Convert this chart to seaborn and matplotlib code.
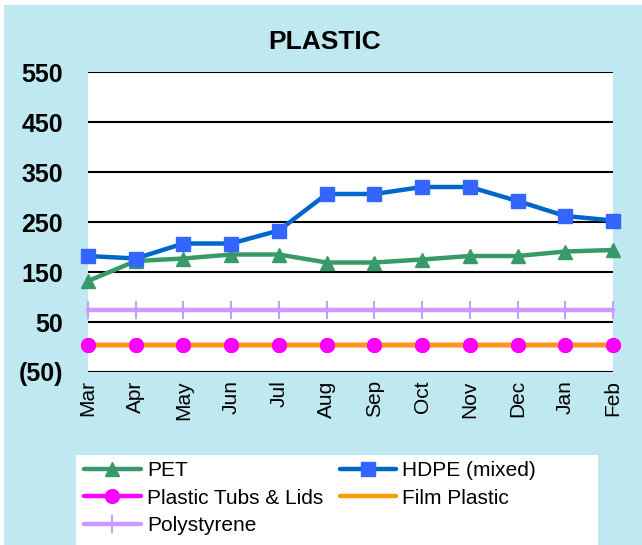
import numpy as np
import pandas as pd
import matplotlib
matplotlib.use("Agg")
import matplotlib.pyplot as plt
import seaborn as sns
from matplotlib.patches import Rectangle

months = ["Mar", "Apr", "May", "Jun", "Jul", "Aug", "Sep", "Oct", "Nov", "Dec", "Jan", "Feb"]
pet = [132, 172, 177, 185, 185, 169, 169, 175, 182, 182, 191, 194]
hdpe = [182, 177, 207, 207, 233, 306, 306, 320, 320, 292, 262, 253]
tubs = [5, 5, 5, 5, 5, 5, 5, 5, 5, 5, 5, 5]
film = [5, 5, 5, 5, 5, 5, 5, 5, 5, 5, 5, 5]
poly = [75, 75, 75, 75, 75, 75, 75, 75, 75, 75, 75, 75]
yticks = [-50, 50, 150, 250, 350, 450, 550]

sns.set_style("white")
plt.rcParams["font.family"] = ["Liberation Sans", "DejaVu Sans"]
plt.rcParams["text.color"] = "black"
plt.rcParams["xtick.color"] = "black"
plt.rcParams["ytick.color"] = "black"

fig = plt.figure(figsize=(6.42, 5.45), dpi=100, facecolor="white")
# light blue chart area (small white margin top/left like the original)
fig.patches.append(Rectangle((4 / 642, 0), 1, 1 - 5 / 545, transform=fig.transFigure,
                             facecolor="#C0E8F0", edgecolor="none", zorder=-5))
# white legend panel
fig.patches.append(Rectangle((76 / 642, 0), 522 / 642, 1 - 455 / 545, transform=fig.transFigure,
                             facecolor="white", edgecolor="none", zorder=-4))
ax = fig.add_axes([88 / 642, 1 - 372 / 545, 525 / 642, 300 / 545])
ax.set_facecolor("white")

x = np.arange(len(months))
series = {
    "PET": (pet, "#389A68", "^", "#389A68", 10, 1),
    "Plastic Tubs & Lids": (tubs, "#FF00FF", "o", "#FF00FF", 10, 1),
    "Polystyrene": (poly, "#CC99FF", "|", "#CC99FF", 13, 1.5),
    "HDPE (mixed)": (hdpe, "#0066CC", "s", "#3366FF", 10, 1),
    "Film Plastic": (film, "#FF9900", None, None, 0, 1),
}
draw_order = ["Polystyrene", "Plastic Tubs & Lids", "Film Plastic", "PET", "HDPE (mixed)"]
handles = {}
for z, name in enumerate(draw_order):
    vals, col, mk, mcol, ms, mew = series[name]
    df = pd.DataFrame({"x": x, "y": vals})
    sns.lineplot(data=df, x="x", y="y", ax=ax, color=col, linewidth=3.2,
                 marker=mk, markersize=ms, markerfacecolor=mcol, markeredgecolor=mcol,
                 markeredgewidth=mew, legend=False, clip_on=False, zorder=3 + z)
    handles[name] = ax.lines[-1]

# tubs markers sit on top of the film plastic line
df = pd.DataFrame({"x": x, "y": tubs})
sns.lineplot(data=df, x="x", y="y", ax=ax, linestyle="none", marker="o", markersize=10,
             markerfacecolor="#FF00FF", markeredgecolor="#FF00FF", legend=False,
             clip_on=False, zorder=5.5)

ax.set_xlim(0, 11)
ax.set_ylim(-50, 550)
ax.set_yticks(yticks)
ax.set_yticklabels([f"({-v})" if v < 0 else str(v) for v in yticks],
                   fontsize=18, fontweight="bold")
ax.set_xticks(x)
ax.set_xticklabels(months, rotation=90, fontsize=15)
ax.tick_params(axis="both", length=0, pad=6)
ax.tick_params(axis="y", pad=18)
ax.set_xlabel("")
ax.set_ylabel("")
for v in yticks:
    ax.axhline(v, color="black", linewidth=1.5, zorder=1)
for sp in ax.spines.values():
    sp.set_visible(False)

fig.text(0.506, 1 - 42 / 545, "PLASTIC", ha="center", va="center",
         fontsize=19, fontweight="bold")

order = ["PET", "Plastic Tubs & Lids", "Polystyrene", "HDPE (mixed)", "Film Plastic"]
leg = fig.legend([handles[k] for k in order], order, ncol=2, loc="upper left",
                 bbox_to_anchor=(76 / 642, 1 - 453 / 545), frameon=False,
                 fontsize=15, handlelength=2.7, columnspacing=0.8,
                 labelspacing=0.4, handletextpad=0.3, borderpad=0.4, borderaxespad=0)

fig.savefig("out.png", dpi=100, facecolor=fig.get_facecolor())
